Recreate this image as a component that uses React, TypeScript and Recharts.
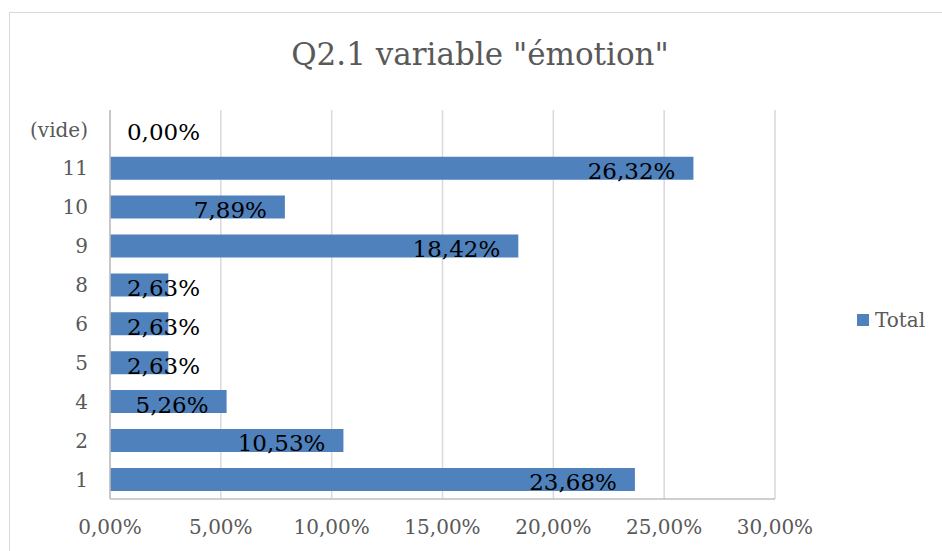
import { BarChart, Bar, XAxis, YAxis, CartesianGrid, Legend, LabelList } from 'recharts';

const categories = ['(vide)', '11', '10', '9', '8', '6', '5', '4', '2', '1'];
const totals = [0, 0.2632, 0.0789, 0.1842, 0.0263, 0.0263, 0.0263, 0.0526, 0.1053, 0.2368];
const xTicks = [0, 0.05, 0.1, 0.15, 0.2, 0.25, 0.3];

const FONT = '"DejaVu Serif", serif';
const GREY = '#595959';
const BLUE = '#4f81bd';

const data = categories.map((cat, i) => ({ cat, total: totals[i] }));

function pct(v: number): string {
  return (v * 100).toFixed(2).replace('.', ',') + '%';
}

// rough text width for DejaVu Serif (digits .636em, comma .318em, % .95em)
function textWidth(s: string, size: number): number {
  let w = 0;
  for (const ch of s) {
    if (ch === ',') w += 0.318;
    else if (ch === '%') w += 0.95;
    else w += 0.636;
  }
  return w * size;
}

function ValueLabel(props: any) {
  const { x, y, width, height, value } = props;
  const text = pct(value ?? 0);
  const size = 23;
  const w = textWidth(text, size);
  const left = 127;
  const end = Math.max(x + width - 18, left + w);
  return (
    <text
      x={end}
      y={y + height / 2 + 3}
      textAnchor="end"
      dominantBaseline="central"
      fontFamily={FONT}
      fontSize={size}
      fill="#000"
    >
      {text}
    </text>
  );
}

function LegendBox() {
  return (
    <div style={{ display: 'flex', alignItems: 'center', fontFamily: FONT, fontSize: 20, color: GREY }}>
      <span style={{ width: 12, height: 12, background: BLUE, marginRight: 6, display: 'inline-block' }} />
      <span>Total</span>
    </div>
  );
}

export default function App() {
  return (
    <div style={{ position: 'absolute', left: 0, top: 0, width: 942, height: 551, background: '#fff', overflow: 'hidden' }}>
      <div
        style={{
          position: 'absolute',
          left: 9,
          top: 12,
          width: 940,
          height: 545,
          border: '1px solid #d9d9d9',
        }}
      />
      <div
        style={{
          position: 'absolute',
          left: 0,
          top: 36,
          width: 960,
          textAlign: 'center',
          fontFamily: FONT,
          fontSize: 31,
          color: GREY,
        }}
      >
        Q2.1 variable "émotion"
      </div>
      <div style={{ position: 'absolute', left: 0, top: 0 }}>
        <BarChart
          width={942}
          height={551}
          data={data}
          layout="vertical"
          barCategoryGap="20%"
          margin={{ top: 110, right: 167, bottom: 12, left: 0 }}
        >
          <CartesianGrid horizontal={false} stroke="#d9d9d9" strokeWidth={1.5} />
          <XAxis
            type="number"
            domain={[0, 0.3]}
            ticks={xTicks}
            tickFormatter={pct}
            height={40}
            tickSize={0}
            tickMargin={21}
            axisLine={{ stroke: '#bfbfbf', strokeWidth: 1.5 }}
            tick={{ fill: GREY, fontFamily: FONT, fontSize: 20 }}
          />
          <YAxis
            type="category"
            dataKey="cat"
            width={110}
            tickSize={0}
            tickMargin={22}
            axisLine={{ stroke: '#bfbfbf', strokeWidth: 1.5 }}
            tick={{ fill: GREY, fontFamily: FONT, fontSize: 20 }}
          />
          <Legend
            layout="horizontal"
            verticalAlign="middle"
            align="center"
            wrapperStyle={{ left: 857, top: 308, width: 90 }}
            content={() => <LegendBox />}
          />
          <Bar dataKey="total" name="Total" fill={BLUE} minPointSize={0.01} isAnimationActive={false}>
            <LabelList dataKey="total" content={ValueLabel} />
          </Bar>
        </BarChart>
      </div>
    </div>
  );
}
